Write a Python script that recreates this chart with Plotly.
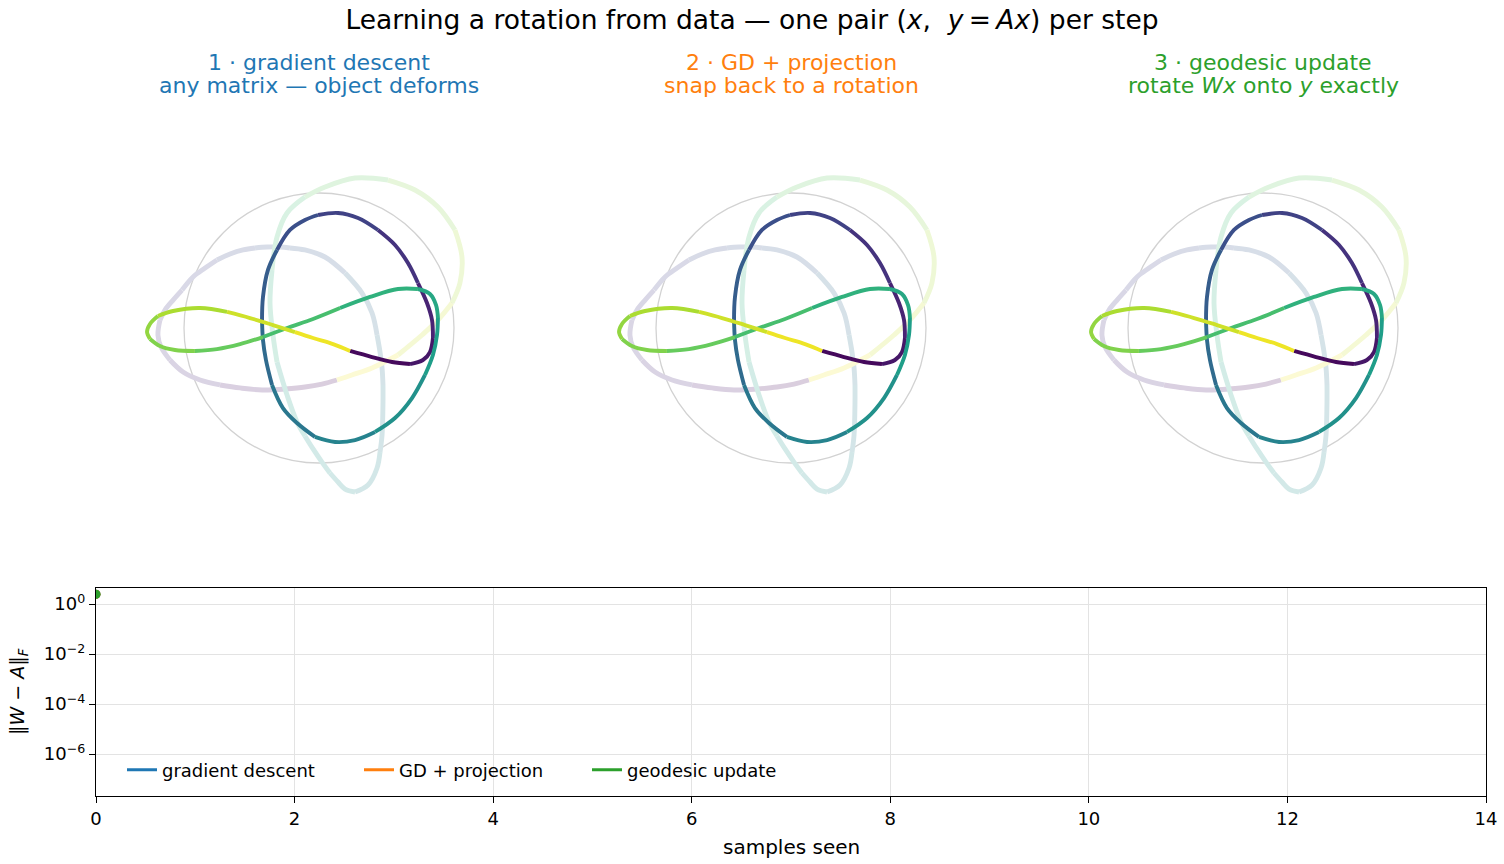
import plotly.graph_objects as go
from plotly.colors import sample_colorscale, unlabel_rgb
import math

# ---------------- data ----------------
# object curve seen through the current estimate W (step 0: W = I), projected to the view plane
current_x = [0.230, 0.393, 0.541, 0.674, 0.770, 0.822, 0.844, 0.837, 0.800, 0.733,
             0.659, 0.563, 0.437, 0.289, 0.141, -0.007, -0.104, -0.215, -0.311, -0.378,
             -0.415, -0.422, -0.415, -0.393, -0.348, -0.267, -0.163, -0.030, 0.119, 0.267,
             0.415, 0.563, 0.689, 0.785, 0.844, 0.874, 0.881, 0.867, 0.822, 0.733,
             0.585, 0.378, 0.156, -0.044, -0.237, -0.415, -0.585, -0.756, -0.919, -1.067,
             -1.178, -1.252, -1.274, -1.252, -1.193, -1.081, -0.881, -0.681, -0.511, -0.341,
             -0.178, -0.044, 0.104, 0.230]
current_y = [-0.170, -0.215, -0.252, -0.267, -0.237, -0.178, -0.074, 0.059, 0.185, 0.333,
             0.481, 0.615, 0.726, 0.815, 0.852, 0.837, 0.800, 0.726, 0.578, 0.430,
             0.230, 0.059, -0.089, -0.237, -0.422, -0.593, -0.704, -0.807, -0.844, -0.830,
             -0.770, -0.667, -0.519, -0.348, -0.200, -0.052, 0.074, 0.170, 0.252, 0.289,
             0.289, 0.230, 0.148, 0.067, 0.000, -0.067, -0.119, -0.156, -0.170, -0.163,
             -0.133, -0.081, -0.030, 0.030, 0.089, 0.126, 0.148, 0.119, 0.074, 0.022,
             -0.030, -0.074, -0.119, -0.170]

# the same object under the true rotation A (target)
target_x = [0.133, 0.022, -0.104, -0.252, -0.422, -0.585, -0.733, -0.881, -1.007, -1.104,
            -1.170, -1.193, -1.178, -1.141, -1.081, -1.015, -0.933, -0.844, -0.756, -0.659,
            -0.563, -0.474, -0.385, -0.289, -0.215, -0.104, 0.044, 0.193, 0.319, 0.393,
            0.430, 0.452, 0.467, 0.474, 0.474, 0.467, 0.452, 0.430, 0.363, 0.267,
            0.193, 0.141, 0.081, 0.022, -0.044, -0.104, -0.163, -0.237, -0.311, -0.341,
            -0.363, -0.348, -0.311, -0.237, -0.104, 0.044, 0.267, 0.511, 0.711, 0.881,
            1.007, 1.059, 1.044, 0.985, 0.881, 0.763, 0.585, 0.393, 0.244, 0.133]
target_y = [-0.385, -0.415, -0.437, -0.452, -0.459, -0.444, -0.422, -0.385, -0.326, -0.237,
            -0.141, -0.052, 0.059, 0.133, 0.207, 0.281, 0.378, 0.444, 0.504, 0.548,
            0.578, 0.593, 0.600, 0.600, 0.593, 0.578, 0.526, 0.407, 0.259, 0.111,
            -0.052, -0.178, -0.296, -0.422, -0.548, -0.793, -0.919, -1.037, -1.163, -1.215,
            -1.193, -1.141, -1.074, -0.993, -0.896, -0.800, -0.696, -0.496, -0.252, -0.052,
            0.185, 0.430, 0.674, 0.852, 0.970, 1.044, 1.111, 1.096, 1.022, 0.896,
            0.726, 0.526, 0.333, 0.185, 0.059, -0.052, -0.200, -0.296, -0.348, -0.385]

methods = ["gradient descent", "GD + projection", "geodesic update"]
method_colors = ["#1f77b4", "#ff7f0e", "#2ca02c"]
subtitle_top = ["1 · gradient descent", "2 · GD + projection", "3 · geodesic update"]
subtitle_bottom = ["any matrix — object deforms", "snap back to a rotation",
                   "rotate <i>Wx</i> onto <i>y</i> exactly"]

samples_seen = [0]
error_gd = [2.45]
error_proj = [2.45]
error_geo = [2.45]
errors = [error_gd, error_proj, error_geo]

x_tick_vals = [0, 2, 4, 6, 8, 10, 12, 14]
y_tick_vals = [1, 1e-2, 1e-4, 1e-6]
y_tick_text = ["10<sup>0</sup>", "10<sup>−2</sup>", "10<sup>−4</sup>", "10<sup>−6</sup>"]

# ---------------- layout helpers ----------------
W, H = 1504, 864
FONT = "DejaVu Sans"
panel_cx = [319, 791, 1263]
panel_cy = 328
unit_px = 135
half = 1.5


def arc_t(xs, ys):
    d = [0.0]
    for i in range(1, len(xs)):
        d.append(d[-1] + math.hypot(xs[i] - xs[i - 1], ys[i] - ys[i - 1]))
    return [v / d[-1] for v in d]


def faded(c, a=0.2):
    r, g, b = unlabel_rgb(c)
    return "rgb(%d,%d,%d)" % (round(a * r + (1 - a) * 255), round(a * g + (1 - a) * 255),
                              round(a * b + (1 - a) * 255))


def curve_traces(xs, ys, xa, ya, width, fade, chunk=3):
    t = arc_t(xs, ys)
    out = []
    n = len(xs)
    for s in range(0, n - 1, chunk):
        e = min(s + chunk, n - 1)
        tm = 0.5 * (t[s] + t[e])
        col = sample_colorscale("Viridis", [tm])[0]
        if fade:
            col = faded(col)
        out.append(go.Scatter(x=xs[s:e + 1], y=ys[s:e + 1], mode="lines",
                              line=dict(color=col, width=width, shape="spline", smoothing=1.0),
                              xaxis=xa, yaxis=ya, showlegend=False, hoverinfo="skip"))
    return out


fig = go.Figure()
shapes = []
annotations = []
layout_axes = {}

for k in range(3):
    idx = "" if k == 0 else str(k + 1)
    xa, ya = "x" + idx, "y" + idx
    for tr in curve_traces(target_x, target_y, xa, ya, 4.9, True):
        fig.add_trace(tr)
    for tr in curve_traces(current_x, current_y, xa, ya, 3.9, False):
        fig.add_trace(tr)
    cx = panel_cx[k]
    layout_axes["xaxis" + idx] = dict(domain=[(cx - half * unit_px) / W, (cx + half * unit_px) / W],
                                      range=[-half, half], visible=False, anchor=ya, fixedrange=True)
    layout_axes["yaxis" + idx] = dict(domain=[1 - (panel_cy + half * unit_px) / H, 1 - (panel_cy - half * unit_px) / H],
                                      range=[-half, half], visible=False, anchor=xa, fixedrange=True)
    shapes.append(dict(type="circle", xref=xa, yref=ya, x0=-1, y0=-1, x1=1, y1=1,
                       line=dict(color="#d2d2d2", width=1.3), layer="below"))
    annotations.append(dict(text=subtitle_top[k], x=cx / W, y=1 - 62 / H, xref="paper", yref="paper",
                            xanchor="center", yanchor="middle", showarrow=False,
                            font=dict(family=FONT, size=22, color=method_colors[k])))
    annotations.append(dict(text=subtitle_bottom[k], x=cx / W, y=1 - 85 / H, xref="paper", yref="paper",
                            xanchor="center", yanchor="middle", showarrow=False,
                            font=dict(family=FONT, size=22, color=method_colors[k])))

# bottom error panel
legend_names = ["legend", "legend2", "legend3"]
for k in range(3):
    fig.add_trace(go.Scatter(x=samples_seen, y=errors[k], mode="lines", name=methods[k],
                             line=dict(color=method_colors[k], width=3),
                             xaxis="x4", yaxis="y4", legend=legend_names[k]))
for k in range(3):
    fig.add_trace(go.Scatter(x=samples_seen, y=errors[k], mode="markers", showlegend=False,
                             marker=dict(color=method_colors[k], size=9),
                             xaxis="x4", yaxis="y4"))

axis_common = dict(showline=True, mirror=True, linecolor="black", linewidth=1.3,
                   ticks="outside", ticklen=6, tickwidth=1.3, tickcolor="black",
                   showgrid=True, gridcolor="#e3e3e3", gridwidth=1, zeroline=False,
                   tickfont=dict(family=FONT, size=18, color="black"))
layout_axes["xaxis4"] = dict(domain=[96 / W, 1486 / W], range=[0, 14], anchor="y4",
                             tickvals=x_tick_vals, **axis_common)
layout_axes["yaxis4"] = dict(domain=[1 - 796 / H, 1 - 588 / H], type="log", range=[-7.68, 0.64],
                             anchor="x4", tickvals=y_tick_vals, ticktext=y_tick_text, **axis_common)

annotations.append(dict(text="samples seen", x=791 / W, y=1 - 847 / H, xref="paper", yref="paper",
                        xanchor="center", yanchor="middle", showarrow=False,
                        font=dict(family=FONT, size=20, color="black")))
annotations.append(dict(text="‖<i>W</i> − <i>A</i>‖<sub><i>F</i></sub>", x=18 / W, y=1 - 692 / H,
                        xref="paper", yref="paper", xanchor="center", yanchor="middle",
                        textangle=-90, showarrow=False,
                        font=dict(family=FONT, size=19, color="black")))

legend_text_x = [162, 399, 627]
legend_layout = {}
for k in range(3):
    legend_layout[legend_names[k]] = dict(
        x=(legend_text_x[k] - 40) / W, y=1 - 770 / H, xanchor="left", yanchor="middle",
        bgcolor="rgba(0,0,0,0)", borderwidth=0,
        font=dict(family=FONT, size=18, color="black"))

fig.update_layout(
    width=W, height=H,
    margin=dict(l=0, r=0, t=0, b=0),
    paper_bgcolor="white", plot_bgcolor="white",
    template="none",
    title=dict(text="Learning a rotation from data — one pair (<i>x</i>,\u00a0 <i>y</i>\u2009=\u2009<i>Ax</i>) per step",
               x=0.5, xanchor="center", y=1 - 20 / H, yanchor="middle", yref="container",
               font=dict(family=FONT, size=26.5, color="black")),
    shapes=shapes, annotations=annotations,
    **layout_axes, **legend_layout,
)

fig.write_html("out.html")
